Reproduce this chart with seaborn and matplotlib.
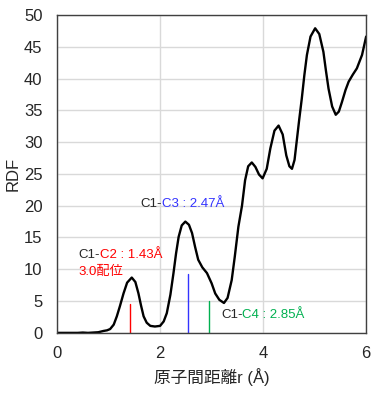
import matplotlib
matplotlib.use('Agg')
import matplotlib.pyplot as plt
import seaborn as sb
import pandas as pd

# RDF curve
r = [0.0, 0.2, 0.4, 0.5, 0.6, 0.7, 0.8, 0.9, 0.97, 1.03, 1.1, 1.16, 1.22, 1.29, 1.36,
     1.45, 1.52, 1.58, 1.63, 1.68, 1.74, 1.81, 1.9, 2.0, 2.07, 2.13, 2.2, 2.26, 2.31,
     2.36, 2.42, 2.49, 2.56, 2.62, 2.68, 2.74, 2.82, 2.91, 3.0, 3.07, 3.15, 3.24, 3.31,
     3.39, 3.45, 3.52, 3.59, 3.65, 3.71, 3.78, 3.85, 3.92, 3.99, 4.07, 4.14, 4.22, 4.30,
     4.38, 4.45, 4.51, 4.56, 4.61, 4.65, 4.70, 4.75, 4.80, 4.85, 4.92, 5.01, 5.09, 5.17,
     5.22, 5.27, 5.34, 5.41, 5.47, 5.53, 5.60, 5.66, 5.74, 5.82, 5.92, 6.0]
rdf = [0.0, 0.0, 0.0, 0.05, 0.0, 0.05, 0.1, 0.3, 0.4, 0.6, 1.3, 2.6, 4.2, 6.2, 7.9,
       8.7, 8.0, 6.2, 4.3, 2.6, 1.6, 1.1, 1.0, 1.1, 1.8, 3.1, 6.0, 9.4, 12.5,
       15.1, 16.9, 17.5, 17.0, 15.7, 13.5, 11.5, 10.3, 9.4, 7.8, 6.2, 5.2, 4.7, 5.5,
       8.3, 12.0, 16.7, 20.0, 24.0, 26.2, 26.8, 26.1, 24.9, 24.3, 25.8, 29.0, 31.8, 32.6,
       31.2, 27.9, 26.2, 25.8, 27.2, 30.0, 33.5, 36.8, 40.5, 43.7, 46.6, 47.9, 47.0, 44.2,
       41.2, 38.4, 35.6, 34.3, 34.8, 36.3, 38.2, 39.5, 40.6, 41.6, 43.7, 46.6]

# marker lines (position, height, colour)
mark_x = [1.42, 2.54, 2.94]
mark_h = [4.5, 9.2, 5.0]
mark_c = ['#ff0000', '#3333ff', '#00b050']

# annotations
lab_x = [0.41, 1.61, 3.18]
lab_y = [12.3, 20.3, 2.8]
lab_pre = ['C1-', 'C1-', 'C1-']
lab_main = ['C2 : 1.43Å', 'C3 : 2.47Å', 'C4 : 2.85Å']

sb.set_style('whitegrid')
plt.rcParams['font.family'] = ['Liberation Sans', 'Noto Sans CJK JP', 'DejaVu Sans']

fig = plt.figure(figsize=(3.83, 3.93), dpi=100)
ax = fig.add_axes([0.149, 0.153, 0.807, 0.809])

frame = pd.DataFrame({'r': r, 'rdf': rdf})
sb.lineplot(data=frame, x='r', y='rdf', color='black', lw=1.7, ax=ax)

for x, h, c in zip(mark_x, mark_h, mark_c):
    ax.plot([x, x], [0, h], color=c, lw=1)

for i in range(3):
    t = ax.text(lab_x[i], lab_y[i], lab_pre[i], color='#262626', fontsize=9.5, va='center')
    ax.annotate(lab_main[i], xy=(1, 0.5), xycoords=t, va='center', ha='left',
                color=mark_c[i], fontsize=9.5)
ax.text(0.41, 9.6, '3.0配位', color='#ff0000', fontsize=9.5, va='center')

ax.set_xlim(0, 6)
ax.set_ylim(0, 50)
ax.set_xticks([0, 2, 4, 6])
ax.set_yticks(range(0, 51, 5))
ax.grid(color='#d9d9d9', lw=1)
for s in ax.spines.values():
    s.set_color('#404040')
    s.set_linewidth(1)
ax.tick_params(length=0, labelsize=12, colors='#262626')
ax.tick_params(axis='x', pad=9.5)
ax.tick_params(axis='y', pad=10.5)
ax.set_xlabel('原子間距離r (Å)', fontsize=12, color='#262626', labelpad=5)
ax.set_ylabel('RDF', fontsize=12, color='#262626', labelpad=2)

plt.savefig('out.png', dpi=100)
plt.close()
